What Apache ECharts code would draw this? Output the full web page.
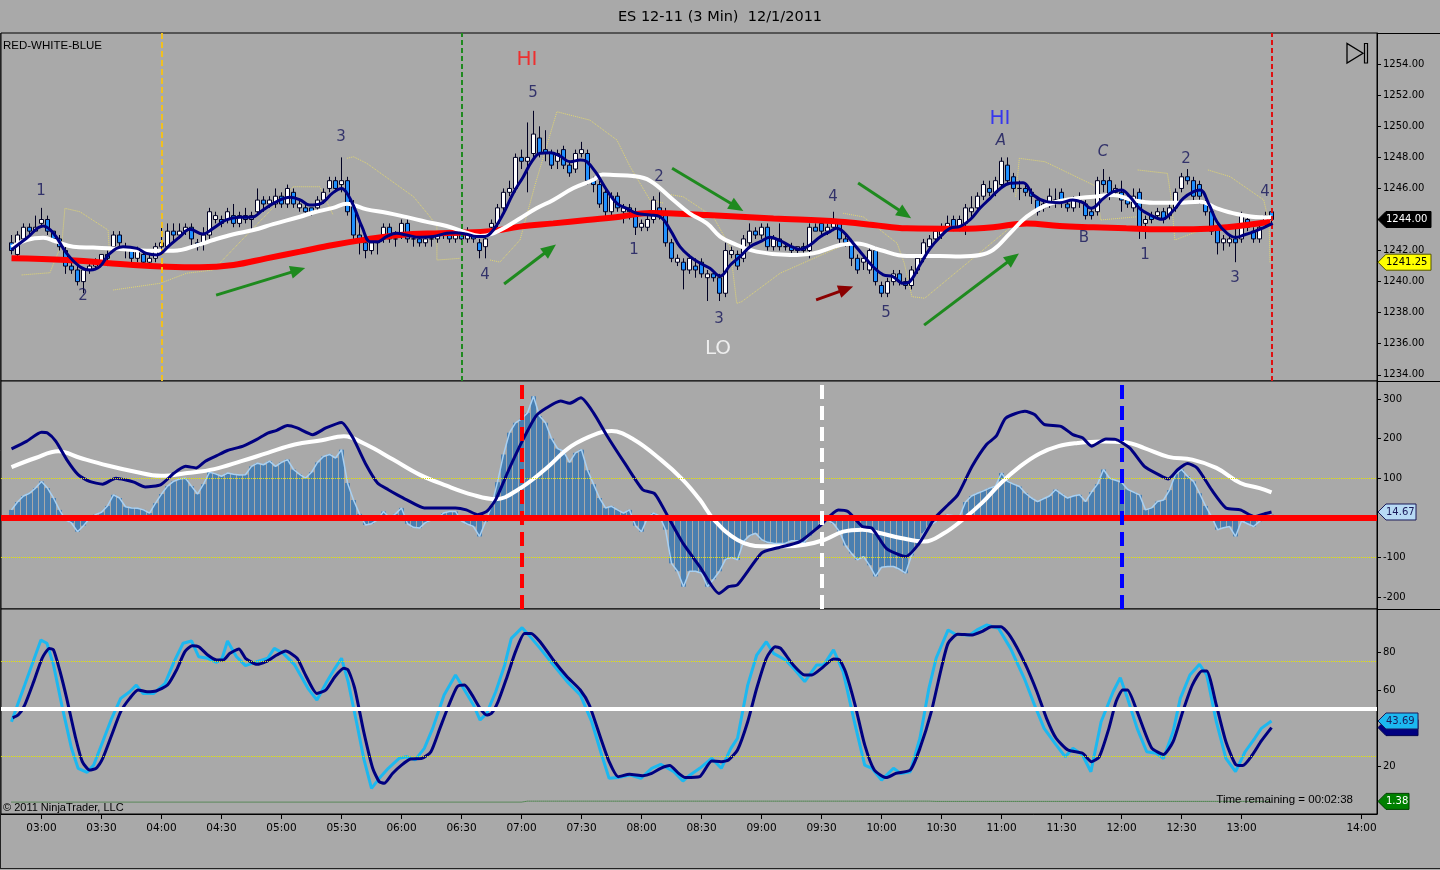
<!DOCTYPE html>
<html><head><meta charset="utf-8">
<script src="https://cdn.jsdelivr.net/npm/echarts@6/dist/echarts.min.js"></script>
<style>html,body{margin:0;padding:0;background:#a9a9a9;overflow:hidden}#c{width:1440px;height:870px}</style>
</head><body><div id="c"></div>
<script>
// ---------------- DATA ----------------
const chartTitle = 'ES 12-11 (3 Min)  12/1/2011';
const firstBarTime = '02:45';
const barMinutes = 3;
const timeTicks = ['03:00','03:30','04:00','04:30','05:00','05:30','06:00','06:30','07:00','07:30','08:00','08:30','09:00','09:30','10:00','10:30','11:00','11:30','12:00','12:30','13:00','14:00'];
const priceTicks = [1234,1236,1238,1240,1242,1244,1246,1248,1250,1252,1254];
const oscTicks = [-200,-100,100,200,300];
const stochTicks = [20,60,80];

// [open, close, low, high] per 3-min bar, 02:45 .. 13:15
const candles = [
[1242.5,1242.0,1241.75,1243.0],[1241.75,1243.0,1241.5,1243.25],[1242.75,1243.5,1242.5,1243.75],[1243.5,1243.25,1243.0,1243.75],[1243.25,1243.5,1243.25,1244.25],
[1243.75,1244.0,1243.5,1244.75],[1244.0,1243.25,1243.0,1244.25],[1243.25,1242.75,1242.5,1243.25],[1242.75,1242.25,1242.0,1243.0],[1242.0,1241.0,1240.5,1242.25],
[1241.0,1240.75,1240.5,1241.25],[1240.75,1240.0,1239.75,1241.0],[1240.0,1240.75,1239.25,1240.75],[1240.75,1241.0,1240.5,1241.25],[1241.0,1241.25,1240.75,1241.5],
[1241.25,1241.75,1241.0,1241.75],[1241.75,1241.5,1241.0,1242.0],[1242.25,1243.0,1242.0,1243.25],[1243.0,1242.5,1242.25,1243.25],[1242.25,1242.0,1241.5,1242.5],
[1242.0,1241.5,1241.25,1242.0],[1241.5,1242.0,1241.25,1242.25],[1241.75,1241.25,1241.0,1242.0],[1241.25,1241.5,1241.0,1241.75],[1241.5,1242.25,1241.25,1242.5],
[1242.25,1242.5,1241.75,1243.75],[1242.25,1243.25,1242.0,1243.75],[1243.25,1243.0,1242.5,1243.75],[1243.0,1243.25,1242.75,1243.75],[1243.25,1243.5,1243.0,1243.75],
[1243.5,1242.75,1242.25,1243.75],[1242.5,1242.25,1242.0,1242.75],[1242.5,1243.0,1242.0,1243.5],[1243.0,1244.5,1242.75,1244.75],[1244.0,1244.25,1243.75,1244.5],
[1244.0,1243.75,1243.5,1244.25],[1244.0,1244.5,1243.75,1244.75],[1244.25,1243.75,1243.5,1245.0],[1243.75,1244.25,1243.5,1244.5],[1244.25,1244.0,1243.75,1244.75],
[1244.0,1244.25,1243.25,1244.5],[1244.5,1245.25,1244.25,1246.0],[1245.25,1245.0,1244.5,1245.5],[1245.0,1245.25,1244.75,1245.5],[1245.0,1245.5,1244.75,1246.0],
[1245.5,1245.0,1244.75,1245.75],[1245.0,1246.0,1244.75,1246.25],[1245.75,1245.0,1244.75,1246.0],[1244.75,1245.0,1244.5,1245.25],[1244.75,1244.5,1244.25,1245.0],
[1244.75,1244.5,1244.25,1244.75],[1244.75,1245.25,1244.5,1245.5],[1245.25,1245.75,1245.0,1246.0],[1246.0,1246.5,1245.75,1246.75],[1246.5,1246.0,1245.75,1246.75],
[1246.25,1246.5,1245.75,1248.0],[1246.5,1244.5,1244.25,1246.75],[1245.0,1243.0,1242.75,1245.25],[1243.0,1242.75,1241.75,1244.0],[1242.5,1242.0,1241.5,1242.75],
[1242.0,1242.5,1241.75,1242.75],[1242.5,1242.75,1241.75,1243.0],[1242.75,1243.5,1242.5,1243.75],[1243.5,1242.75,1242.5,1243.75],[1242.75,1242.75,1242.25,1243.25],
[1243.0,1243.75,1242.75,1244.0],[1243.75,1242.75,1242.5,1244.0],[1242.75,1242.75,1242.25,1243.0],[1242.75,1242.5,1242.25,1243.0],[1242.5,1242.75,1242.25,1243.0],
[1242.75,1242.75,1242.25,1243.0],[1242.75,1243.0,1242.5,1243.25],[1243.0,1243.0,1242.75,1243.25],[1243.0,1242.75,1242.5,1243.25],[1242.75,1243.0,1242.5,1243.25],
[1243.25,1242.75,1242.5,1243.5],[1242.75,1243.25,1242.5,1243.5],[1243.0,1242.75,1242.5,1243.25],[1242.5,1242.0,1241.5,1242.75],[1242.25,1242.75,1241.5,1243.25],
[1243.5,1243.75,1243.25,1244.0],[1243.75,1244.75,1243.5,1245.0],[1244.75,1245.75,1244.5,1246.0],[1245.75,1246.0,1245.5,1246.5],[1246.0,1248.0,1245.75,1248.25],
[1248.0,1247.75,1247.25,1248.5],[1247.75,1248.0,1245.75,1250.25],[1248.25,1249.5,1248.0,1251.0],[1249.25,1248.25,1248.0,1250.0],[1248.5,1248.25,1247.75,1249.75],
[1248.25,1247.5,1247.25,1248.5],[1247.75,1248.25,1247.25,1248.5],[1248.5,1247.5,1247.25,1248.75],[1247.5,1247.0,1246.75,1247.75],[1247.25,1248.25,1247.0,1248.5],
[1248.25,1248.5,1248.0,1249.0],[1248.25,1246.5,1246.25,1248.5],[1246.5,1246.25,1245.75,1246.75],[1246.25,1245.0,1244.75,1246.5],[1245.75,1244.5,1244.0,1246.0],
[1244.5,1245.5,1244.25,1245.75],[1245.5,1244.75,1244.5,1245.75],[1244.5,1244.75,1243.75,1245.0],[1244.75,1244.5,1244.0,1245.0],[1244.5,1243.5,1243.0,1244.75],
[1243.5,1243.75,1243.25,1244.0],[1243.5,1244.0,1243.25,1244.25],[1244.0,1245.25,1243.75,1245.5],[1244.75,1244.25,1244.0,1245.75],[1244.5,1242.5,1242.25,1244.75],
[1242.5,1241.5,1241.25,1242.75],[1241.25,1241.5,1241.0,1241.75],[1241.25,1240.75,1239.5,1241.5],[1240.75,1241.5,1240.5,1241.75],[1241.0,1240.75,1240.25,1241.5],
[1241.25,1240.5,1240.25,1241.5],[1240.25,1240.5,1238.75,1240.75],[1240.5,1240.25,1240.0,1240.75],[1240.25,1239.25,1238.75,1240.5],[1239.25,1242.0,1239.0,1242.5],
[1241.75,1242.0,1241.5,1242.25],[1241.75,1241.0,1240.75,1242.0],[1241.5,1242.75,1241.25,1243.0],[1242.5,1243.25,1242.25,1243.75],[1243.25,1243.0,1242.75,1243.5],
[1243.0,1243.5,1242.75,1243.75],[1243.5,1242.25,1242.0,1243.75],[1242.25,1242.75,1242.0,1243.0],[1242.75,1242.25,1242.0,1243.75],[1242.25,1242.25,1242.0,1242.5],
[1242.25,1242.0,1241.75,1242.5],[1242.0,1242.25,1241.75,1242.25],[1242.25,1242.0,1241.75,1242.5],[1242.0,1243.5,1241.5,1243.75],[1243.5,1243.25,1243.25,1243.75],
[1243.75,1243.25,1243.0,1244.0],[1243.25,1243.5,1243.0,1243.75],[1243.5,1243.75,1243.25,1244.5],[1243.75,1242.75,1242.5,1244.0],[1242.75,1242.5,1242.25,1243.0],
[1242.5,1241.5,1241.0,1242.75],[1241.5,1240.75,1240.5,1241.75],[1241.25,1241.5,1240.75,1241.75],[1240.75,1242.0,1240.5,1242.25],[1242.0,1240.0,1239.75,1242.25],
[1239.75,1239.25,1239.0,1240.0],[1239.25,1240.0,1239.0,1240.25],[1240.0,1240.5,1239.75,1240.75],[1240.5,1240.0,1239.75,1240.75],[1240.0,1239.75,1239.5,1240.25],
[1239.75,1240.75,1239.5,1241.0],[1240.75,1241.5,1240.5,1241.75],[1241.5,1242.5,1241.25,1242.75],[1242.25,1242.75,1242.0,1243.0],[1242.75,1243.25,1242.5,1243.5],
[1243.0,1243.5,1242.75,1243.75],[1243.5,1243.75,1243.25,1244.25],[1244.0,1243.5,1243.25,1244.25],[1243.5,1244.0,1243.25,1244.25],[1243.75,1244.75,1243.0,1245.0],
[1244.5,1244.75,1244.0,1245.5],[1244.75,1245.5,1244.5,1245.75],[1245.5,1246.25,1245.25,1246.5],[1246.0,1245.75,1245.5,1246.5],[1245.75,1246.5,1245.5,1246.75],
[1246.25,1247.75,1246.0,1248.0],[1247.5,1246.5,1246.25,1248.0],[1246.75,1246.0,1245.75,1247.0],[1246.0,1246.0,1245.25,1246.5],[1246.0,1245.75,1245.5,1246.25],
[1245.75,1245.5,1245.0,1246.0],[1245.25,1244.5,1244.25,1245.5],[1244.75,1245.0,1244.5,1245.25],[1245.0,1245.5,1244.75,1246.0],[1245.25,1245.25,1244.75,1246.0],
[1245.75,1245.25,1244.75,1246.0],[1245.0,1244.75,1244.5,1245.25],[1244.75,1245.25,1244.5,1245.5],[1245.25,1245.25,1244.75,1245.75],[1245.0,1244.25,1244.0,1245.25],
[1244.5,1244.25,1244.0,1244.75],[1244.5,1246.5,1244.25,1246.75],[1246.5,1246.25,1245.75,1247.25],[1246.5,1245.5,1245.25,1246.75],[1245.75,1246.0,1245.5,1246.25],
[1245.75,1245.25,1244.5,1246.5],[1245.25,1245.0,1244.75,1245.5],[1244.75,1245.5,1244.5,1246.0],[1245.75,1243.5,1242.75,1246.0],[1243.75,1244.0,1242.75,1244.25],
[1244.25,1244.0,1243.75,1244.5],[1244.25,1244.5,1244.0,1244.75],[1244.5,1244.0,1243.75,1244.75],[1244.25,1244.75,1244.0,1245.0],[1244.75,1245.75,1244.5,1246.0],
[1246.0,1246.75,1245.75,1247.0],[1246.75,1246.5,1246.25,1247.25],[1246.5,1245.5,1245.25,1246.75],[1246.25,1245.5,1245.0,1246.5],[1245.0,1244.5,1244.25,1245.25],
[1244.5,1243.25,1243.0,1244.75],[1243.5,1242.5,1241.75,1243.75],[1242.5,1242.75,1242.0,1243.0],[1242.5,1242.75,1242.25,1243.0],[1242.75,1242.5,1241.25,1243.5],
[1242.75,1244.25,1242.5,1244.5],[1244.0,1243.5,1243.25,1244.25],[1243.25,1242.75,1242.5,1243.5],[1242.75,1243.5,1242.5,1243.75],[1243.75,1244.25,1243.5,1244.5],
[1244.5,1244.0,1243.75,1244.5]
];

// moving averages on price: [barIndex, price] read at the line's vertices
const slowAvg = [[0,1241.5],[9.2,1241.39],[20.3,1241.07],[25.9,1240.96],[31.4,1240.92],[37,1241.07],[42.5,1241.5],[48.1,1241.93],[53.6,1242.36],[59.2,1242.72],[64.75,1243.0],[71.4,1243.12],[79.2,1243.22],[84.75,1243.54],[90.3,1243.75],[95.9,1243.97],[101.4,1244.18],[106.4,1244.42],[115.9,1244.29],[127,1244.07],[138.1,1243.86],[143.6,1243.65],[149.2,1243.43],[158.1,1243.4],[163.6,1243.5],[169.2,1243.75],[174.7,1243.58],[180.3,1243.5],[185.8,1243.43],[191.4,1243.37],[197,1243.37],[202.6,1243.5],[209.8,1243.86]];
const midAvg = [[0,1242.21],[2.5,1242.68],[5.3,1242.83],[7.5,1242.57],[10.3,1242.25],[13.6,1242.19],[17,1242.14],[20.3,1242.04],[23.6,1241.98],[27,1241.98],[31.4,1242.4],[33.6,1242.68],[37,1243.05],[40.3,1243.32],[43.6,1243.7],[48.1,1244.18],[50.3,1244.45],[53.6,1244.75],[55.9,1245.02],[59.2,1244.65],[62.5,1244.44],[65.9,1244.15],[69.2,1243.85],[72.5,1243.58],[75.3,1243.22],[78.1,1242.94],[80.3,1243.11],[82.5,1243.54],[84.8,1244.08],[87.5,1244.72],[90.3,1245.26],[93.6,1246.01],[96.9,1246.54],[98.5,1246.9],[100.3,1246.87],[103.6,1246.8],[106.4,1246.5],[110.3,1245.26],[113,1244.4],[115.9,1243.75],[118.1,1242.9],[120.3,1242.46],[124.2,1241.93],[129.75,1241.71],[133.6,1241.82],[138.1,1242.36],[140.9,1242.46],[144.75,1242.04],[149.2,1241.65],[154.75,1241.65],[158.1,1241.62],[161.4,1241.71],[163.6,1242.04],[166.4,1243.11],[169.2,1244.18],[172.5,1244.93],[176.4,1245.3],[180.3,1245.47],[183.6,1245.58],[186.9,1245.25],[190.3,1245.08],[194.2,1245.08],[198.1,1245.15],[200.9,1244.72],[204.2,1244.35],[208.1,1244.14],[210,1244.14]];
const fastAvg = [[0,1242.04],[2.5,1242.79],[5.3,1243.58],[7,1243.11],[9.2,1241.82],[11.4,1240.96],[13.1,1240.75],[14.7,1240.96],[16.4,1241.82],[18.6,1242.25],[20.9,1242.14],[22.5,1241.82],[24.2,1241.72],[26.4,1242.36],[28.1,1242.9],[29.7,1243.37],[31.9,1243.07],[33.6,1243.43],[35.8,1243.97],[38,1244.14],[40,1244.14],[41.9,1244.61],[44.2,1245.15],[46.4,1245.43],[48.1,1245.26],[49.7,1244.93],[51.4,1245.0],[53.6,1245.73],[55,1246.0],[56.1,1245.58],[57.3,1244.61],[58.4,1243.54],[59.8,1242.57],[61.1,1242.57],[62.5,1242.9],[64.2,1243.11],[65.8,1243.0],[68.1,1242.85],[70.3,1242.9],[72.5,1243.11],[74,1243.15],[75.7,1243.07],[77.5,1242.9],[78.9,1242.9],[80.3,1243.32],[82,1244.4],[83.6,1245.68],[85.3,1246.76],[86.7,1247.72],[88.1,1248.26],[89.8,1248.3],[91.4,1248.09],[93.1,1247.72],[94.8,1247.83],[95.9,1247.72],[97.5,1246.97],[99.2,1245.9],[100.9,1245.04],[102.5,1244.72],[104.2,1244.4],[106.4,1244.29],[108.1,1244.18],[109.8,1243.32],[111.4,1242.25],[113.1,1241.61],[114.8,1241.18],[116.4,1240.86],[118.1,1240.36],[119.8,1241.07],[121.4,1241.61],[123.1,1242.25],[124.8,1242.57],[126.4,1242.85],[128.1,1242.64],[129.8,1242.29],[131.4,1242.08],[133.1,1242.36],[134.8,1242.89],[136.4,1243.22],[137.5,1243.43],[138.6,1243.22],[140.3,1242.46],[141.9,1241.71],[143.6,1240.96],[145.3,1240.43],[146.9,1240.32],[148.6,1239.89],[149.7,1240.0],[151.4,1241.07],[153.1,1242.14],[154.8,1242.89],[156.4,1243.43],[158.1,1243.55],[159.8,1244.0],[161.4,1244.72],[163.1,1245.36],[164.8,1246.0],[166.4,1246.33],[168.6,1246.37],[170.3,1245.58],[172.5,1245.15],[174.7,1245.08],[176.9,1245.25],[178.6,1245.08],[179.9,1244.72],[182,1245.36],[183.6,1245.79],[185,1245.9],[186.4,1245.47],[188,1244.72],[189.8,1244.29],[191.7,1244.01],[193.7,1244.61],[195.3,1245.36],[197,1245.79],[198.1,1245.9],[199.5,1245.04],[200.9,1243.86],[202.6,1243.11],[204,1242.85],[205.4,1243.0],[207.1,1243.22],[208.8,1243.5],[210.2,1243.75]];

// projected channel outlines (dotted yellow), [barIndex, price]
const channels = [
 [[1.7,1240.43],[6.4,1240.57],[8.4,1242.47],[8.9,1244.72],[11.4,1244.5],[16.1,1243.32],[16.4,1241.39]],
 [[16.95,1239.46],[24.75,1239.89],[29.2,1240.54],[33.6,1240.75],[46.96,1246.11],[51.4,1246.11],[53.6,1244.29]],
 [[55.9,1247.94],[57.0,1248.04],[59.2,1247.62],[67.0,1245.47],[69.75,1244.18],[70.9,1243.54],[70.9,1241.39],[74.75,1241.5]],
 [[79.75,1241.39],[81.4,1241.26],[84.75,1242.68],[87.25,1246.22],[90.9,1250.94],[96.4,1250.4],[100.9,1249.12],[103.1,1247.4],[106.4,1245.26],[108.6,1245.06]],
 [[108.6,1245.68],[111.97,1245.46],[116.97,1244.17],[119.75,1242.25],[120.87,1238.6],[121.7,1238.71],[128.1,1240.54],[138.1,1242.25]],
 [[138.6,1244.4],[141.97,1244.17],[147.6,1242.47],[148.8,1241.18],[150.07,1239.03],[152.2,1238.93],[167.35,1243.77]],
 [[167.35,1245.47],[167.97,1247.94],[172.25,1247.72],[180.9,1246.11],[181.5,1243.97],[187.7,1244.18]],
 [[187.7,1247.19],[192.65,1246.97],[193.25,1245.47],[193.9,1242.68],[198.2,1243.32]],
 [[199.4,1247.19],[203.1,1246.76],[208.7,1245.26],[209.6,1243.76],[209.75,1241.18]]
];

// oscillator panel
const oscHist = [
20,40,55,62,75,92,75,50,20,-5,
-13,-35,-20,-2,8,14,30,58,50,28,
25,24,20,12,37,60,80,92,98,100,
80,60,85,115,111,105,113,110,108,109,
130,138,134,143,130,140,147,122,110,100,
115,140,155,160,151,172,88,45,10,-18,
-15,-5,16,0,10,25,-15,-24,-26,-12,
-5,-2,12,16,16,-8,-16,-22,-47,-10,
30,90,160,215,240,250,265,307,257,240,
200,175,168,140,164,172,120,85,50,25,
29,20,12,20,-20,-35,0,12,5,-30,
-115,-135,-174,-135,-135,-140,-174,-155,-135,-105,
-100,-106,-60,-45,-39,-55,-62,-64,-65,-64,
-58,-58,-64,-45,-30,-13,-5,-15,-35,-70,
-90,-106,-98,-120,-148,-125,-123,-123,-130,-140,
-95,-70,-39,-20,-10,0,8,5,3,40,
55,62,68,75,80,113,92,85,79,62,
50,41,48,55,71,60,50,55,58,41,
65,85,122,100,95,90,72,65,58,20,
25,41,45,70,110,122,105,92,62,30,
3,-30,-25,-22,-47,-8,-15,-22,-9,0,8];
const oscLine = [[0,174],[2.5,193],[5,216],[6,214],[7.4,193],[9.2,147],[11.1,109],[13,92],[15.2,85],[17.4,100],[18.9,96],[20.4,90],[22.3,78],[24.9,84],[27.1,113],[29,130],[30.8,126],[32.3,143],[34.2,157],[36,170],[38.6,181],[40.9,198],[42.7,214],[44.2,221],[46,233],[47.6,227],[50.2,210],[52.4,227],[55,241],[56.9,202],[59.1,134],[61,88],[62.8,71],[64.3,58],[65.8,46],[68.8,25],[71.7,25],[74,25],[75.8,20],[77.7,8],[79.2,16],[80.7,46],[82.9,122],[85.1,193],[87.4,257],[89.2,278],[91.5,295],[93,289],[94.9,303],[97,265],[99.3,206],[102.2,138],[105.2,71],[107.1,62],[108.2,37],[109.7,-5],[111.9,-64],[114.7,-123],[117.9,-191],[119.5,-174],[121,-169],[125,-89],[127.4,-77],[131.4,-60],[134.6,-22],[137.8,20],[139.4,16],[141.8,-22],[143.4,-26],[145.8,-77],[149,-98],[151.3,-64],[153.8,-2],[156.1,33],[157.7,58],[160.1,130],[162.5,185],[164.1,206],[165.7,252],[168.9,269],[170.5,261],[172.1,236],[174.9,231],[176.9,210],[178.5,202],[180,181],[182.4,199],[184,198],[186.4,176],[188.8,130],[191.2,109],[192.8,98],[194.4,122],[196,137],[197.6,126],[200,71],[202.4,25],[204.8,20],[207.2,3],[208.8,10],[210,14.67]];
const oscSignal = [[0,128],[4,151],[7.8,168],[11.5,151],[16,132],[20.4,117],[24.9,106],[29.3,113],[33.8,123],[38.3,143],[42.7,164],[47.2,185],[51.7,196],[55.4,206],[59.1,185],[63.6,147],[68,109],[72.5,81],[76.9,58],[80.7,47],[84.4,71],[88.9,122],[93.3,181],[97.8,214],[100,219],[103.7,198],[108.2,147],[111.9,96],[114.7,46],[117.1,-5],[121,-56],[125,-72],[129,-72],[132.2,-68],[135.4,-56],[138.6,-35],[141.8,-30],[144.9,-39],[148.2,-51],[152.2,-60],[155.4,-39],[158.5,-5],[161.7,37],[164.9,88],[168.1,130],[171.3,162],[174.5,181],[177.7,189],[181.6,193],[185.6,191],[188.8,176],[192.8,154],[196.8,147],[200.8,126],[204.8,88],[208,75],[210,64]];

// stochastic panel
const stochK = [[0,43.3],[1.1,53],[2.2,62.6],[3.7,75.8],[4.9,86.3],[5.9,84.6],[7,73.2],[8.5,50.3],[10,29.3],[11.1,18.8],[12.6,16.7],[13.7,20.5],[15.2,32.8],[16.7,45.1],[18.2,55.6],[19.7,59.1],[20.8,62.6],[21.9,58.2],[23.7,58.2],[25.6,63.5],[27.1,74.9],[28.6,84.6],[30,85.8],[31.2,77.5],[32.7,76.7],[34.2,74.6],[35.1,76.7],[36,85.8],[37.5,77.5],[39,72.8],[40.9,74.9],[42.7,76.7],[43.8,81.9],[45.3,79.3],[47.2,73.2],[49.4,60.9],[50.9,54.7],[52.4,63.5],[53.9,71.4],[55,76.7],[56.1,64.4],[57.6,41.6],[58.7,24],[60,8.2],[61.3,13.5],[62.8,18.8],[64.6,24],[65.8,24.9],[67.3,23.2],[68.8,29.3],[70.2,39.8],[72.1,57.4],[74,67.9],[75.5,60],[77,52.1],[78.1,44.2],[79.2,47.7],[80.7,59.1],[82.2,73.2],[83.3,87.2],[85.1,92.8],[86.2,89],[88.1,81.9],[90.3,73.2],[92.6,64.4],[94.8,57.4],[96.7,43.3],[98.2,27.5],[99.6,13.5],[101.1,13.9],[103,15.3],[104.9,13.5],[106.7,18.8],[108.2,20.9],[110.4,17],[111.9,12.1],[113.1,15.3],[114.7,18.8],[116.7,24],[118.3,18.8],[119.9,29.3],[121,34.6],[122.7,62.6],[124.2,78.4],[125.8,85.4],[127,79.3],[129,75.8],[130.6,70.5],[132.2,64.4],[134.2,73.2],[135.4,73.2],[137,81.1],[138.6,69.6],[140.6,41.6],[142.2,20.5],[143.4,18.8],[145,12.6],[147,18.8],[148.2,16.1],[149.8,17],[151.4,34.6],[152.9,60.9],[154.1,76.7],[156.1,91.6],[157.3,89.3],[159.7,89],[160.9,91.6],[162.5,94.2],[164.5,92.5],[166.5,81.9],[168.9,65.3],[170.5,52.1],[172.1,39.8],[174.1,31.1],[175.6,24.9],[176.9,29.3],[178.5,25.8],[179.9,17],[181.6,43.3],[183.6,59.1],[184.8,66.5],[186,55.6],[187.6,39.8],[189.2,27.5],[190.8,26.7],[192,24],[193.6,38.1],[194.8,55.6],[196.4,67.9],[198,73.5],[199.2,67.9],[200.8,43.3],[202.4,24],[204,17],[205.6,27.5],[207.2,34.6],[208.3,39.8],[210,43.69]];
const stochD = [[0.2,45.4],[1.1,46.8],[2.2,52.1],[3.7,64.4],[5.1,76.7],[6.3,81.9],[7,81.1],[8.1,69.6],[9.2,55.6],[10.7,34.6],[11.8,22.3],[13,17.9],[14.1,18.8],[15.2,24],[16.7,36.3],[18.2,48.6],[19.7,55.6],[21.1,60],[22.6,59.1],[24.1,59.5],[26,62.6],[27.5,70.5],[28.9,80.2],[30.1,83.3],[31.2,82.8],[32.7,78.4],[34.2,75.8],[35.3,75.8],[36.4,79.3],[37.9,81.6],[39,76.7],[40.9,73.5],[42.4,74.9],[44.2,78.4],[45.7,80.5],[47.6,76.7],[49,67.9],[50.9,58.2],[52.4,60],[53.9,67],[55.4,71.4],[56.1,70.5],[57.2,60.9],[58.7,38.1],[60.2,18.8],[61.3,11.7],[62.1,10.9],[63.5,16.1],[65,20.5],[66.5,23.7],[68.4,24],[69.9,27.5],[71.4,39.8],[72.9,52.1],[74.3,61.8],[75.5,62.6],[76.6,58.2],[78.1,50.3],[79.2,46.8],[80,47.7],[81.1,53.9],[82.5,66.1],[84,80.2],[85.5,89.8],[86.6,89.8],[88.1,85.4],[90.3,75.8],[92.6,67],[94.8,60],[96.3,52.1],[98.2,34.6],[99.6,22.3],[101.1,14.4],[103,15.6],[105.2,14.9],[106.7,16.1],[108.2,18.8],[109.7,20.2],[111.2,16.1],[112.3,13.9],[114.7,14.4],[116.7,22.6],[118.3,22.3],[119.5,23.2],[121,28.4],[122.7,43.3],[124.2,60.9],[125.8,76.7],[127.3,82.8],[128.2,81.9],[130.2,73.5],[132.2,67.9],[133.4,67.9],[135,71.4],[137,76.3],[138,75.8],[139,69.6],[140.6,52.1],[142.2,31.1],[143.8,17.9],[145.8,13.9],[147.4,16.1],[149.8,17.9],[151.4,29.3],[153.3,48.6],[154.9,70.5],[156.1,84.6],[157.7,89.3],[160.1,89],[161.7,90.7],[163.3,93.3],[164.9,93.3],[166.5,88.1],[168.9,74],[170.9,59.1],[172.5,45.1],[174.1,34.6],[176.1,28.4],[178.5,26.7],[180,22.3],[181.3,24.9],[182.9,39.8],[184.1,53.9],[185.2,60],[186,60],[187.6,48.6],[190,29.6],[192,26.1],[193.6,32.8],[195.2,48.6],[196.8,62.6],[198.4,70],[199.2,70],[200.8,52.1],[202.4,32.8],[204,20.9],[205.2,20.2],[206.8,25.8],[208.3,33.2],[210,40.2]];
const greenLevel = [[0,1.0],[85,1.0],[86,1.5],[153,1.5],[154,1.38],[210,1.38]];

// markers and reference values
const stopLevel = 1241.25;
const lastOsc = 14.67, lastK = 43.69, lastD = 40.2, lastGreen = 1.38;
const priceMarkers = ['04:00','06:30','13:15'];
const oscMarkers = ['07:00','09:30','12:00'];
// [text, barIndex, price, kind]
const annotations = [
 ['1',4.9,1245.84,'wave'],['2',11.9,1239.07,'wave'],['3',54.9,1249.31,'wave'],['4',78.9,1240.43,'wave'],['5',86.9,1252.15,'wave'],
 ['HI',85.9,1254.27,'hiRed'],['1',103.75,1242.04,'wave'],['2',107.9,1246.74,'wave'],['3',117.9,1237.59,'wave'],['LO',117.75,1235.66,'lo'],
 ['4',136.9,1245.45,'wave'],['5',145.75,1237.98,'wave'],['HI',164.75,1250.47,'hiBlue'],['A',164.9,1249.05,'waveI'],['C',181.9,1248.35,'waveI'],
 ['B',178.75,1242.81,'wave'],['1',188.9,1241.71,'wave'],['2',195.75,1247.9,'wave'],['3',203.9,1240.23,'wave'],['4',208.9,1245.77,'wave']
];
// [fromIndex, fromPrice, toIndex, toPrice, kind]
const arrows = [
 [34.1,1239.13,47.75,1240.74,'up'],[82.1,1239.85,89.75,1242.1,'up'],[110.1,1247.3,120.9,1244.8,'up'],
 [141.1,1246.35,148.9,1244.35,'up'],[134.1,1238.82,139.1,1239.52,'warn'],[152.1,1237.2,166.9,1241.52,'up']
];

// ---------------- CHART ----------------
const chart = echarts.init(document.getElementById('c'));
function toMin(t){const p=t.split(':').map(Number);return p[0]*60+p[1];}
const t0 = toMin(firstBarTime);
const idx = t => (toMin(t)-t0)/barMinutes;
const tickIdx = timeTicks.map(idx);
const idxToTime = v => {const m=Math.round(t0+v*barMinutes);return String(Math.floor(m/60)).padStart(2,'0')+':'+String(m%60).padStart(2,'0');};

const FONT = 'DejaVu Sans';
const X_MIN = -1.75, X_MAX = 227.58;
const gridBox = [{top:33,height:348},{top:381,height:228},{top:609,height:205}];
const yRange = [[1233.6,1256.01],[-230.3,345.5],[-5.26,102.63]];
const yTicks = [priceTicks, oscTicks, stochTicks];

const grid = gridBox.map(g => ({left:1,width:1376,top:g.top,height:g.height,show:true,borderColor:'#000',borderWidth:1,backgroundColor:'#a9a9a9'}));
const xAxis = [0,1,2].map(k => ({
  type:'value', gridIndex:k, min:X_MIN, max:X_MAX, splitLine:{show:false},
  axisLine:{show:k===2,onZero:false,lineStyle:{color:'#000',width:1}},
  axisTick:{show:k===2,customValues:tickIdx,length:5,lineStyle:{color:'#000'}},
  axisLabel:{show:k===2,customValues:tickIdx,formatter:v=>idxToTime(v),color:'#000',fontFamily:FONT,fontSize:10.5,margin:9}
}));
const yAxis = [0,1,2].map(k => ({
  type:'value', gridIndex:k, position:'right', min:yRange[k][0], max:yRange[k][1], splitLine:{show:false},
  axisLine:{show:true,onZero:false,lineStyle:{color:'#000',width:1}},
  axisTick:{show:true,customValues:yTicks[k],length:4,lineStyle:{color:'#000'}},
  axisLabel:{customValues:yTicks[k],formatter:v=>k===0?v.toFixed(2):String(v),color:'#000',fontFamily:FONT,fontSize:10,margin:6}
}));

const annStyle = {
  wave:{color:'#14145a',fontSize:15,fontFamily:FONT},
  waveI:{color:'#14145a',fontSize:15,fontFamily:FONT,fontStyle:'italic'},
  hiRed:{color:'#ff1010',fontSize:20,fontFamily:FONT},
  lo:{color:'#ffffff',fontSize:20,fontFamily:FONT},
  hiBlue:{color:'#1a1aff',fontSize:20,fontFamily:FONT}
};
const arrowColor = {up:'#1e8a1e', warn:'#8b0000'};
const vline = (x,color,width,dash) => ({xAxis:x,lineStyle:{color,width,type:dash}});
const hline = (y,color,width,dash) => ({yAxis:y,lineStyle:{color,width,type:dash}});
const mlBase = {silent:true,symbol:'none',label:{show:false},animation:false};

const series = [
  {type:'candlestick', xAxisIndex:0, yAxisIndex:0, z:2, barWidth:5,
   data:candles.map((c,i)=>[i,c[0],c[1],c[2],c[3]]),
   itemStyle:{color:'#ffffff',color0:'#1e90ff',borderColor:'#000022',borderColor0:'#000022',borderWidth:1},
   markLine:Object.assign({},mlBase,{data:[
     vline(idx(priceMarkers[0]),'#f0c020',2,[6,3]),
     vline(idx(priceMarkers[1]),'#1f8a1f',2,[5,3]),
     vline(idx(priceMarkers[2]),'#e01010',2,[5,3])]})},
  ...channels.map(ch => ({type:'line',xAxisIndex:0,yAxisIndex:0,z:2,data:ch,symbol:'none',silent:true,
     lineStyle:{color:'#e8dc6a',width:1,type:'dotted',opacity:0.9}})),
  {type:'line',xAxisIndex:0,yAxisIndex:0,z:3,data:slowAvg,symbol:'none',smooth:0.4,silent:true,lineStyle:{color:'#ff0000',width:6}},
  {type:'line',xAxisIndex:0,yAxisIndex:0,z:4,data:midAvg,symbol:'none',smooth:0.4,silent:true,lineStyle:{color:'#ffffff',width:4}},
  {type:'line',xAxisIndex:0,yAxisIndex:0,z:5,data:fastAvg,symbol:'none',smooth:0.4,silent:true,lineStyle:{color:'#000080',width:3}},
  {type:'scatter',xAxisIndex:0,yAxisIndex:0,z:6,symbolSize:1,silent:true,itemStyle:{color:'rgba(0,0,0,0)'},
   data:annotations.map(a=>({value:[a[1],a[2]],label:Object.assign({show:true,position:'inside',formatter:a[0]},annStyle[a[3]])})),
   markLine:{silent:true,animation:false,label:{show:false},symbol:['none','triangle'],symbolSize:[13,15],
     data:arrows.map(a=>[{coord:[a[0],a[1]],lineStyle:{color:arrowColor[a[4]],width:3,type:'solid'},itemStyle:{color:arrowColor[a[4]]}},{coord:[a[2],a[3]]}])}},
  // oscillator
  {type:'bar',xAxisIndex:1,yAxisIndex:1,z:1,barWidth:5,silent:true,data:oscHist.map((v,i)=>[i,v]),itemStyle:{color:'#4a7fb0'}},
  {type:'line',xAxisIndex:1,yAxisIndex:1,z:2,data:oscHist.map((v,i)=>[i,v]),symbol:'none',silent:true,lineStyle:{color:'#a8d0f2',width:1.5},
   markLine:Object.assign({},mlBase,{data:[hline(100,'#e6e600',1,'dotted'),hline(-100,'#e6e600',1,'dotted'),hline(0,'#ff0000',6,'solid')]})},
  {type:'line',xAxisIndex:1,yAxisIndex:1,z:3,data:oscSignal,symbol:'none',smooth:0.4,silent:true,lineStyle:{color:'#ffffff',width:4}},
  {type:'line',xAxisIndex:1,yAxisIndex:1,z:4,data:oscLine,symbol:'none',smooth:0.2,silent:true,lineStyle:{color:'#000080',width:3},
   markLine:Object.assign({},mlBase,{data:[
     vline(idx(oscMarkers[0]),'#ff0000',4,[14,7]),
     vline(idx(oscMarkers[1]),'#ffffff',4,[14,7]),
     vline(idx(oscMarkers[2]),'#0000ff',4,[14,7])]})},
  // stochastic
  {type:'line',xAxisIndex:2,yAxisIndex:2,z:1,data:greenLevel,symbol:'none',silent:true,lineStyle:{color:'#0a6a0a',width:1,type:'dotted'},
   markLine:Object.assign({},mlBase,{data:[hline(75,'#e6e600',1,'dotted'),hline(25,'#e6e600',1,'dotted'),hline(50,'#ffffff',4,'solid')]})},
  {type:'line',xAxisIndex:2,yAxisIndex:2,z:3,data:stochK,symbol:'none',silent:true,lineStyle:{color:'#1cb8f0',width:3}},
  {type:'line',xAxisIndex:2,yAxisIndex:2,z:4,data:stochD,symbol:'none',smooth:0.2,silent:true,lineStyle:{color:'#000080',width:3}}
];

chart.setOption({
  animation:false,
  backgroundColor:'#a9a9a9',
  title:{text:chartTitle,left:'center',top:5,textStyle:{color:'#000',fontSize:14.5,fontWeight:'normal',fontFamily:FONT}},
  grid, xAxis, yAxis, series
});

// right-side value tags and chrome
function tag(axisIdx,value,w,fill,stroke,color,text){
  const y = chart.convertToPixel({yAxisIndex:axisIdx},value);
  const x0 = 1378;
  return {type:'group',z:100,children:[
    {type:'polygon',z:100,shape:{points:[[x0,y],[x0+8,y-8],[x0+w,y-8],[x0+w,y+8],[x0+8,y+8]]},style:{fill,stroke,lineWidth:1}},
    {type:'text',z:101,x:x0+8,y:y,style:{text,fill:color,font:'10px "DejaVu Sans"',verticalAlign:'middle'}}
  ]};
}
const lastClose = candles[candles.length-1][1];
const ln = (x1,y1,x2,y2,c) => ({type:'line',z:100,shape:{x1,y1,x2,y2},style:{stroke:c||'#000',lineWidth:1}});
const txt = (x,y,t,f,al) => ({type:'text',z:100,x,y,style:{text:t,fill:'#000',font:f,verticalAlign:'middle',align:al||'left'}});
chart.setOption({graphic:[
  ln(1377,33.5,1440,33.5), ln(1377,381.5,1440,381.5), ln(1377,609.5,1440,609.5), ln(0,868.5,1440,868.5,'#222'), ln(0.5,33,0.5,868,'#222'),
  txt(3,46,'RED-WHITE-BLUE','11.5px "Liberation Sans"'),
  txt(3,808,'\u00a9 2011 NinjaTrader, LLC','11px "Liberation Sans"'),
  txt(1353,800,'Time remaining = 00:02:38','11.5px "Liberation Sans"','right'),
  {type:'polygon',z:100,shape:{points:[[1347,43.5],[1347,63],[1363,53.2]]},style:{fill:'none',stroke:'#000',lineWidth:1.3}},
  {type:'rect',z:100,shape:{x:1364.5,y:43.5,width:3,height:19.5},style:{fill:'none',stroke:'#000',lineWidth:1.2}},
  tag(0,lastClose,53,'#000000','#000000','#ffffff',lastClose.toFixed(2)),
  tag(0,stopLevel,53,'#ffff00','#555500','#000000',stopLevel.toFixed(2)),
  tag(1,lastOsc,38,'#b8daf4','#1a1a5a','#1a1a5a',lastOsc.toFixed(2)),
  tag(2,lastD,40,'#000080','#000050','#000080',''),
  tag(2,lastK,40,'#1cb8f0','#1a1a5a','#1a1a5a',lastK.toFixed(2)),
  tag(2,lastGreen,31,'#008000','#004000','#ffffff',lastGreen.toFixed(2))
]});
</script>
</body></html>
